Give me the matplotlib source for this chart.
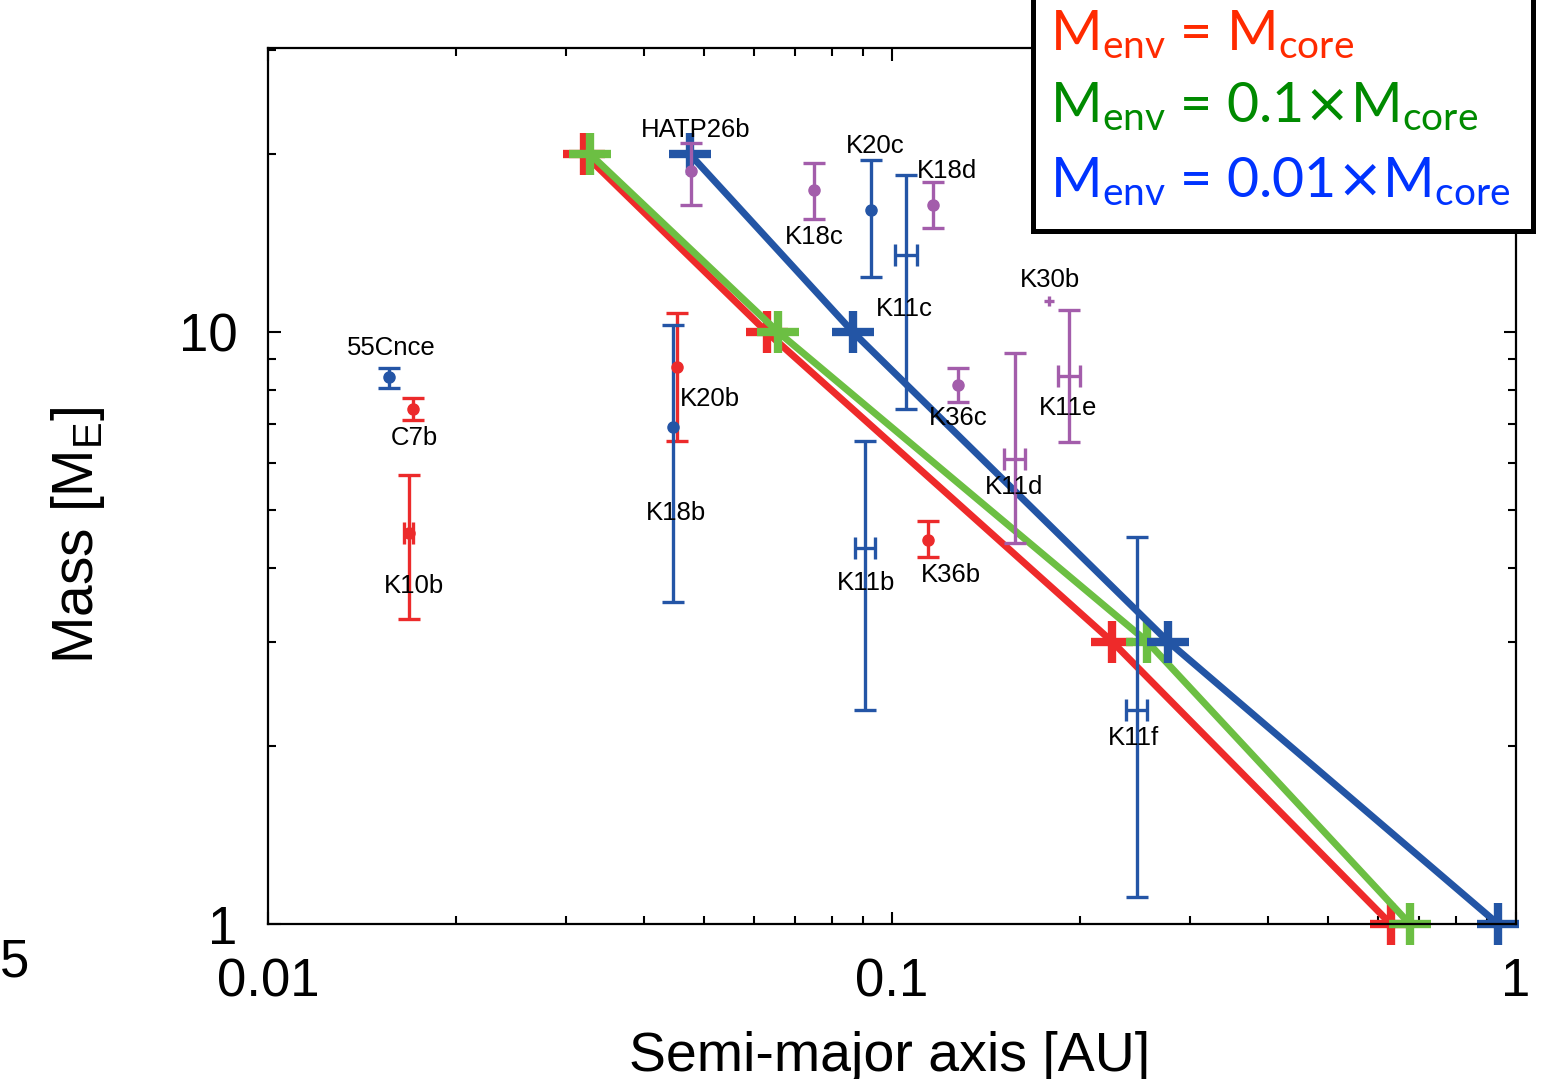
import matplotlib.pyplot as plt
from matplotlib.patches import Rectangle
from matplotlib.ticker import LogLocator, NullFormatter, FixedLocator, FixedFormatter

plt.rcParams['font.family'] = ['Liberation Sans', 'DejaVu Sans']

# planets: semi-major axis [AU], mass [M_E] with error range
names = ['55Cnce', 'C7b', 'K10b', 'K20b', 'K18b', 'HATP26b', 'K18c', 'K20c', 'K11c',
         'K18d', 'K30b', 'K11e', 'K36c', 'K11d', 'K11b', 'K36b', 'K11f']
a_au = [0.0156, 0.0171, 0.0168, 0.0452, 0.0446, 0.0476, 0.0750, 0.0925, 0.1053,
        0.1163, 0.1785, 0.1921, 0.1276, 0.1574, 0.0905, 0.1142, 0.2470]
a_err = [0, 0, 0.0003, 0, 0, 0, 0, 0, 0.0043,
         0, 0.0034, 0.0079, 0, 0.0060, 0.0034, 0, 0.0096]
mass = [8.40, 7.41, 4.58, 8.73, 6.91, 18.7, 17.4, 16.1, 13.5,
        16.4, 11.3, 8.43, 8.14, 6.10, 4.32, 4.45, 2.30]
mass_hi = [8.70, 7.74, 5.74, 10.77, 10.3, 20.9, 19.3, 19.5, 18.4,
           17.9, 11.52, 10.9, 8.70, 9.21, 6.54, 4.80, 4.50]
mass_lo = [8.04, 7.10, 3.27, 6.54, 3.50, 16.4, 15.5, 12.4, 7.41,
           15.0, 11.08, 6.52, 7.62, 4.40, 2.30, 4.17, 1.11]
group = ['b', 'r', 'r', 'r', 'b', 'p', 'p', 'b', 'b',
         'p', 'p', 'p', 'p', 'p', 'b', 'r', 'b']
has_dot = [1, 1, 1, 1, 1, 1, 1, 1, 0, 1, 0, 0, 1, 0, 0, 1, 0]
caps = [8, 8, 8, 8, 8, 8, 8, 8, 8, 8, 0, 8, 8, 8, 8, 8, 8]
# label offsets (pixels)
lab_dx = [3, 1, 5, 33, 3, 5, 0, 4, -2, 14, 1, -1, 0, -1, 1, 23, -4]
lab_dy = [29, -29, -53, -32, -86, 41, -47, 64, -54, 34, 21, -32, -33, -28, -35, -35, -28]

# core mass tracks for different envelope fractions
track_mass = [20, 10, 3, 1]
a_env1 = [0.0321, 0.0630, 0.2253, 0.630]
a_env01 = [0.0328, 0.0657, 0.2564, 0.676]
a_env001 = [0.0474, 0.0866, 0.277, 0.936]

colors = {'r': '#EC2A2B', 'b': '#2455A6', 'p': '#A35DAB'}

fig = plt.figure(figsize=(15.61, 10.79), dpi=100)
ax = fig.add_axes([0.1717, 0.1436, 0.7995, 0.8119])

for xs, c in ((a_env1, '#EE2A2A'), (a_env01, '#6CBF43'), (a_env001, '#2355A5')):
    ax.plot(xs, track_mass, '-', color=c, lw=5, marker='+', ms=30, mew=6,
            solid_capstyle='butt', clip_on=False)

for i in range(len(names)):
    c = colors[group[i]]
    yerr = [[mass[i] - mass_lo[i]], [mass_hi[i] - mass[i]]]
    xerr = [[a_err[i]], [a_err[i]]] if a_err[i] > 0 else None
    ax.errorbar([a_au[i]], [mass[i]], yerr=yerr, xerr=xerr, fmt='o' if has_dot[i] else 'none',
                color=c, ms=8, elinewidth=2.4, capsize=caps[i], capthick=2.4, zorder=4)
    ax.annotate(names[i], (a_au[i], mass[i]), xytext=(lab_dx[i], lab_dy[i]),
                textcoords='offset pixels', ha='center', va='center', fontsize=18.5, zorder=5)

ax.set_xscale('log')
ax.set_yscale('log')
ax.set_xlim(0.01, 1)
ax.set_ylim(1, 30.2)

ax.xaxis.set_major_locator(FixedLocator([0.01, 0.1, 1]))
ax.xaxis.set_major_formatter(FixedFormatter(['0.01', '0.1', '1']))
ax.yaxis.set_major_locator(FixedLocator([1, 10]))
ax.yaxis.set_major_formatter(FixedFormatter(['1', '10']))
ax.xaxis.set_minor_locator(LogLocator(base=10, subs=range(2, 10)))
ax.yaxis.set_minor_locator(LogLocator(base=10, subs=range(2, 10)))
ax.xaxis.set_minor_formatter(NullFormatter())
ax.yaxis.set_minor_formatter(NullFormatter())

ax.tick_params(which='both', direction='in', top=True, right=True, width=1.5)
ax.tick_params(which='major', length=9, labelsize=38)
ax.tick_params(axis='x', which='major', pad=24)
ax.tick_params(axis='y', which='major', pad=22)
ax.tick_params(which='minor', length=6)
for s in ax.spines.values():
    s.set_linewidth(1.6)

fig.text(0.05, 0.504, r'Mass [$\mathregular{M_E}$]', rotation=90, ha='center', va='center', fontsize=41)
fig.text(0.570, 0.02, 'Semi-major axis [AU]', ha='center', va='center', fontsize=40)
fig.text(0.0, 0.108, '5', ha='left', va='center', fontsize=38)

# legend box
box = Rectangle((0.662, 0.786), 0.320, 0.25, transform=fig.transFigure, facecolor='white',
                edgecolor='black', lw=3.6, zorder=10, clip_on=False)
fig.add_artist(box)
leg_rows = [
    (r'$\mathregular{M_{env}}$ = $\mathregular{M_{core}}$', '#FF2A00', 0.9537),
    (r'$\mathregular{M_{env}}$ = 0.1$\times\mathregular{M_{core}}$', '#008A00', 0.887),
    (r'$\mathregular{M_{env}}$ = 0.01$\times\mathregular{M_{core}}$', '#0033FF', 0.8174),
]
for txt, c, yb in leg_rows:
    fig.text(0.6727, yb, txt, color=c, fontsize=40, family='Lato', ha='left', va='baseline', zorder=11)

fig.savefig('out.png', dpi=100)
